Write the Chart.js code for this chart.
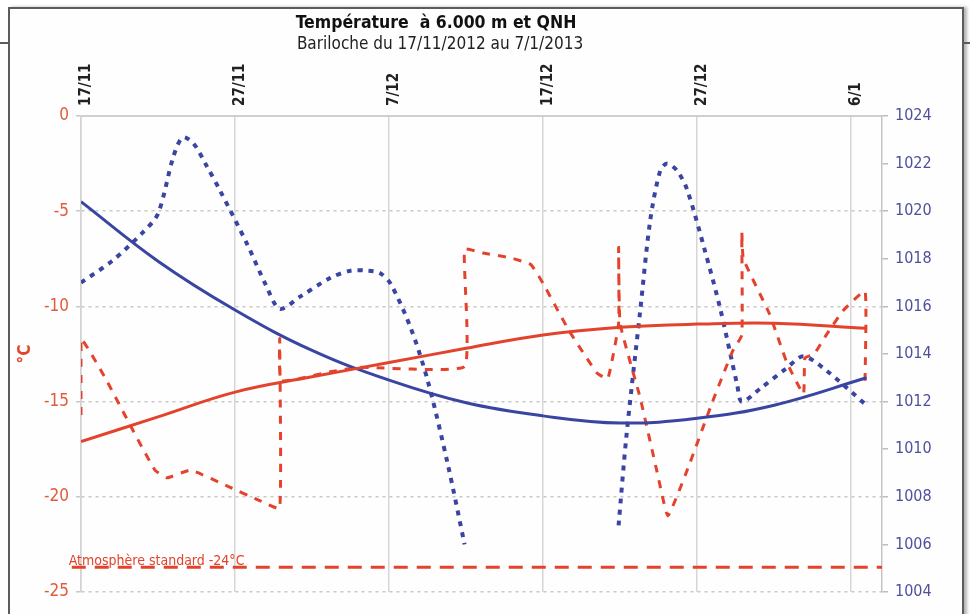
<!DOCTYPE html>
<html>
<head>
<meta charset="utf-8">
<script src="https://cdn.jsdelivr.net/npm/chart.js@4.4.1/dist/chart.umd.min.js"></script>
<style>
  html, body { margin: 0; padding: 0; background: #fff; }
  #wrap { position: relative; width: 970px; height: 614px; overflow: hidden; background: #fff; }
  #frame { position: absolute; left: 8px; top: 7px; width: 952px; height: 640px;
           border: 2px solid #5c5c5c; box-shadow: 3px 0 3px #b5b5b5; background: #fefefe; }
  .tab { position: absolute; top: 42px; height: 2px; background: #5c5c5c; }
  canvas { position: absolute; left: 0; top: 0; }
</style>
</head>
<body>
<div id="wrap">
  <div id="frame"></div>
  <div class="tab" style="left:0;width:8px"></div>
  <div class="tab" style="left:964px;width:6px"></div>
  <canvas id="chart" width="970" height="614"></canvas>
</div>
<script>
// x in days since 17/11/2012
const tickDays = [0, 10, 20, 30, 40, 50];
const tickLabels = ['17/11', '27/11', '7/12', '17/12', '27/12', '6/1'];

// température à 6000 m (°C)
const tempDays = [0, 0, 1.6, 3.3, 4.8, 5.6, 7.1, 9.4, 11.6, 12.9,
  12.9, 13.0, 16.4, 18.1, 24.9, 24.9, 26.1, 27.9, 29.2, 30.0,
  31.7, 33.5, 34.2, 34.9, 34.9, 35.0, 36.3, 37.4, 38.1, 39.4,
  41.0, 42.3, 42.9, 42.9, 43.0, 44.7, 45.8, 46.9, 47.0, 47.6,
  48.3, 49.5, 50.9, 50.9];
const tempValues = [-15.7, -11.7, -13.8, -16.4, -18.6, -19.0, -18.6, -19.4, -20.2, -20.6,
  -11.7, -13.9, -13.4, -13.2, -13.15, -7.0, -7.2, -7.45, -7.8, -8.8,
  -11.3, -13.5, -13.8, -10.9, -6.9, -10.9, -14.8, -18.7, -21.0, -18.5,
  -15.0, -12.35, -11.5, -6.1, -7.5, -10.4, -12.9, -14.6, -12.7, -12.5,
  -11.6, -10.2, -9.2, -13.9];

// QNH (hPa), null = pas de données
const qnhDays = [0, 2, 4, 5, 6, 6.6, 7.3, 8.2, 9.0, 10.8,
  12.0, 12.9, 14.2, 16.2, 17.5, 18.6, 19.4, 20.1, 21.4, 22.5,
  23.8, 24.9, 30, 34.9, 35.4, 36.3, 36.95, 37.6, 38.05, 38.7,
  39.35, 40.5, 41.5, 42.6, 42.9, 44.1, 45.8, 46.9, 48.4, 50.9];
const qnhValues = [1017.0, 1017.9, 1019.1, 1019.9, 1022.3, 1023.1, 1022.85, 1021.85, 1020.9, 1018.6,
  1016.9, 1015.9, 1016.4, 1017.2, 1017.5, 1017.5, 1017.4, 1016.95, 1015.1, 1012.9,
  1009.4, 1006.0, null, 1006.8, 1010.5, 1015.8, 1019.6, 1021.7, 1022.0, 1021.7,
  1020.9, 1018.35, 1015.9, 1012.7, 1012.0, 1012.55, 1013.4, 1013.9, 1013.3, 1011.9];

// courbes de tendance
const trendDays = [0, 5, 10, 15, 20, 25, 30, 35, 40, 45, 51];
const tempTrend = [-17.1, -15.8, -14.5, -13.7, -12.95, -12.2, -11.5, -11.1, -10.93, -10.88, -11.15];
const qnhTrend = [1020.4, 1017.9, 1015.85, 1014.15, 1012.9, 1011.95, 1011.4, 1011.1, 1011.3, 1011.85, 1013.0];

// atmosphère standard
const stdDays = [-0.6, 52];
const stdTemp = [-23.7, -23.7];
const stdLabel = 'Atmosphère standard -24°C';

const titleText = 'Température  à 6.000 m et QNH';
const subtitleText = 'Bariloche du 17/11/2012 au 7/1/2013';

const RED = '#e3432c';
const BLUE = '#3a45a2';
const FONT = "'DejaVu Sans Condensed', 'DejaVu Sans', sans-serif";

const pts = (xs, ys) => xs.map((x, i) => ({ x: x, y: ys[i] }));

// titles, x labels and the standard label
const textPlugin = {
  id: 'texts',
  afterDraw(chart) {
    const ctx = chart.ctx;
    const x = chart.scales.x, y = chart.scales.y;
    ctx.save();
    ctx.textAlign = 'center';
    ctx.textBaseline = 'middle';
    ctx.fillStyle = '#111';
    ctx.font = 'bold 17.5px ' + FONT;
    ctx.fillText(titleText, 436, 23);
    ctx.font = '17px ' + FONT;
    ctx.fillStyle = '#222';
    ctx.fillText(subtitleText, 440, 45);

    ctx.font = 'bold 15px ' + FONT;
    ctx.fillStyle = '#222';
    ctx.textAlign = 'left';
    tickDays.forEach((d, i) => {
      ctx.save();
      ctx.translate(x.getPixelForValue(d) + 5, x.bottom - 10);
      ctx.rotate(-Math.PI / 2);
      ctx.fillText(tickLabels[i], 0, 0);
      ctx.restore();
    });

    ctx.font = '14px ' + FONT;
    ctx.fillStyle = RED;
    ctx.textBaseline = 'alphabetic';
    ctx.fillText(stdLabel, x.getPixelForValue(stdDays[0]) - 3, y.getPixelForValue(stdTemp[0]) - 2);
    ctx.restore();
  }
};

new Chart(document.getElementById('chart'), {
  type: 'line',
  data: {
    datasets: [
      {
        label: 'Tendance température',
        data: pts(trendDays, tempTrend),
        yAxisID: 'y',
        borderColor: RED,
        borderWidth: 3,
        tension: 0.4,
        pointRadius: 0
      },
      {
        label: 'Tendance QNH',
        data: pts(trendDays, qnhTrend),
        yAxisID: 'y2',
        borderColor: BLUE,
        borderWidth: 3,
        tension: 0.4,
        pointRadius: 0
      },
      {
        label: 'Température',
        data: pts(tempDays, tempValues),
        yAxisID: 'y',
        borderColor: RED,
        borderWidth: 3,
        borderDash: [8, 8],
        tension: 0.12,
        pointRadius: 0
      },
      {
        label: 'QNH',
        data: pts(qnhDays, qnhValues),
        yAxisID: 'y2',
        borderColor: BLUE,
        borderWidth: 4,
        borderDash: [5, 6],
        tension: 0.3,
        pointRadius: 0,
        spanGaps: false
      },
      {
        label: 'Atmosphère standard',
        data: pts(stdDays, stdTemp),
        yAxisID: 'y',
        borderColor: RED,
        borderWidth: 3,
        borderDash: [14, 9],
        pointRadius: 0,
        clip: false
      }
    ]
  },
  options: {
    responsive: false,
    animation: false,
    layout: { padding: { top: 56, bottom: 22, left: 0, right: 0 } },
    plugins: {
      legend: { display: false },
      tooltip: { enabled: false }
    },
    scales: {
      x: {
        type: 'linear',
        position: 'top',
        min: 0,
        max: 52,
        afterBuildTicks: (s) => { s.ticks = tickDays.map(v => ({ value: v })); },
        afterFit: (s) => { s.height = 60; },
        ticks: { display: false },
        grid: { color: '#d6d6d6', lineWidth: 1.5, drawTicks: false },
        border: { color: '#cfcfcf', width: 2 }
      },
      y: {
        position: 'left',
        min: -25,
        max: 0,
        afterFit: (s) => { s.width = 81; },
        ticks: { stepSize: 5, color: '#e25a3d', padding: 7, font: { family: FONT, size: 17 } },
        grid: { color: '#c8c8c8', lineWidth: 1.5, tickLength: 5 },
        border: { color: '#d2d2d2', width: 1.5, dash: [3, 4] },
        title: {
          display: true,
          text: '°C',
          color: RED,
          padding: { top: 15 },
          font: { family: FONT, size: 17, weight: 'bold' }
        }
      },
      y2: {
        position: 'right',
        min: 1004,
        max: 1024,
        afterFit: (s) => { s.width = 88; },
        ticks: { stepSize: 2, color: '#4f4f9c', padding: 7, font: { family: FONT, size: 16 },
                 callback: (v) => String(v) },
        grid: { drawOnChartArea: false, color: '#bdbdbd', lineWidth: 1.5, tickLength: 6 },
        border: { color: '#c4c4c4', width: 1.5 }
      }
    }
  },
  plugins: [textPlugin]
});
</script>
</body>
</html>
